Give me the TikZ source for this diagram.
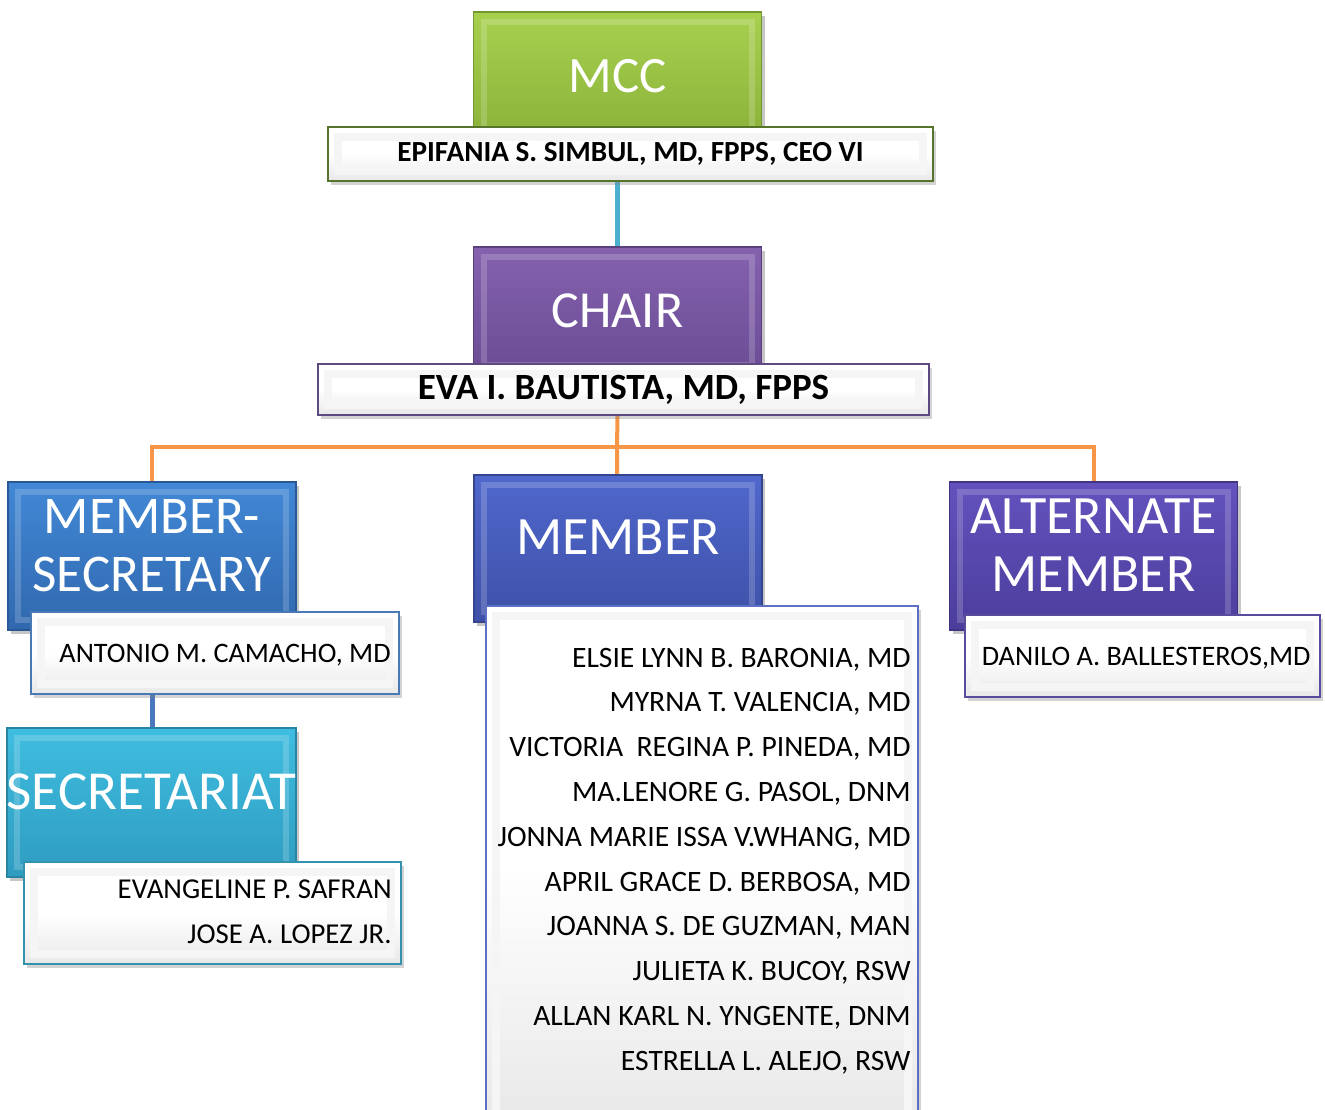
\documentclass[tikz,border=0pt]{standalone}
\usepackage{fontspec}
\setmainfont{Carlito}
\usetikzlibrary{positioning, shadows}

\definecolor{mcctop}{HTML}{A8D04F}
\definecolor{mccbot}{HTML}{8AB239}
\definecolor{mccline}{HTML}{56752A}
\definecolor{chairtop}{HTML}{8561AE}
\definecolor{chairbot}{HTML}{6A4C94}
\definecolor{chairline}{HTML}{5E4A80}
\definecolor{mstop}{HTML}{4288D6}
\definecolor{msbot}{HTML}{3068AE}
\definecolor{msline}{HTML}{4A7AB5}
\definecolor{sectop}{HTML}{3FBDE0}
\definecolor{secbot}{HTML}{2E9CC0}
\definecolor{secline}{HTML}{3592AE}
\definecolor{memtop}{HTML}{5068CC}
\definecolor{membot}{HTML}{3E50A8}
\definecolor{memline}{HTML}{5D6FC4}
\definecolor{alttop}{HTML}{6352BD}
\definecolor{altbot}{HTML}{4B3D9C}
\definecolor{altline}{HTML}{5B4B9E}
\definecolor{tealink}{HTML}{4BB0CF}
\definecolor{orangelink}{HTML}{F79646}
\definecolor{bluelink}{HTML}{4A77BE}

\pgfdeclarelayer{back}
\pgfsetlayers{back,main}

\tikzset{
  headbox/.style 2 args={rectangle, draw=#2!85!black, line width=0.6pt, top color=#1, bottom color=#2, inner sep=0pt, minimum width=144pt,
    drop shadow={shadow xshift=1.5pt, shadow yshift=-2pt, opacity=0.45},
    path picture={\draw[white, opacity=0.18, line width=3pt] ([shift={(5pt,-5pt)}]path picture bounding box.north west) rectangle ([shift={(-5pt,5pt)}]path picture bounding box.south east);}},
  headtext/.style={text=white, align=center, inner sep=0pt, font=\fontsize{#1}{29pt}\selectfont},
  namebox/.style={rectangle, draw=#1, line width=0.9pt, top color=white, bottom color=black!9, middle color=white, inner sep=0pt,
    drop shadow={shadow xshift=1.5pt, shadow yshift=-2pt, opacity=0.35},
    path picture={\draw[black!4, line width=4pt] ([shift={(5pt,-5pt)}]path picture bounding box.north west) rectangle ([shift={(-5pt,5pt)}]path picture bounding box.south east);}},
  nametext/.style={inner sep=0pt, font=\fontsize{#1}{17pt}\selectfont},
  nametext/.default=14.1,
  link/.style={line width=#1},
}

\begin{document}
\begin{tikzpicture}[x=0.5pt, y=-0.5pt]
  \useasboundingbox (0,0) rectangle (1325,1109);

  % top: MCC
  \node[headbox={mcctop}{mccbot}, headtext=25.5, minimum height=64pt] (mcc) at (617.5,76) {MCC};
  \node[namebox=mccline, minimum width=302.5pt, minimum height=27pt, font=\bfseries\fontsize{14.6}{17pt}\selectfont] (mccname) at (630.5,154) {EPIFANIA S. SIMBUL, MD, FPPS, CEO VI};

  % chair
  \node[headbox={chairtop}{chairbot}, headtext=26, minimum height=64pt] (chair) at (617.5,311) {CHAIR};
  \node[namebox=chairline, minimum width=305.5pt, minimum height=25.5pt, font=\bfseries\fontsize{18.5}{20pt}\selectfont] (chairname) at (623.5,389.5) {EVA I. BAUTISTA, MD, FPPS};

  % member-secretary
  \node[headbox={mstop}{msbot}, minimum height=74pt] (ms) at (152,556) {};
  \node[headtext=26.5] (mstext) at ([yshift=5pt]ms.center) {MEMBER-\\SECRETARY};
  \node[namebox=msline, minimum width=184pt, minimum height=41pt] (msname) at (215,653) {};
  \node[nametext, anchor=base east] (msn) at (391,662) {ANTONIO M. CAMACHO, MD};

  % secretariat
  \node[headbox={sectop}{secbot}, minimum width=144.5pt, minimum height=74.5pt] (sec) at (151.5,802.5) {};
  \node[headtext=27.5] (sectext) at ([yshift=5.5pt]sec.center) {SECRETARIAT};
  \node[namebox=secline, minimum width=188.5pt, minimum height=51pt] (secname) at (212.5,913) {};
  \node[nametext=14.4, anchor=base east] (secn1) at (392,898) {EVANGELINE P. SAFRAN};
  \node[nametext=14.4, anchor=base east] (secn2) at (392,943) {JOSE A. LOPEZ JR.};

  % member
  \node[headbox={memtop}{membot}, minimum height=73.5pt] (member) at (618,548.5) {};
  \node[headtext=27] (membertext) at ([yshift=5.5pt]member.center) {MEMBER};
  \node[namebox=memline, minimum width=216pt, minimum height=259.5pt] (memname) at (702,865.5) {};
  \foreach \who [count=\i] in {{ELSIE LYNN B. BARONIA, MD}, {MYRNA T. VALENCIA, MD}, {VICTORIA\ \ REGINA P. PINEDA, MD},
      {MA.LENORE G. PASOL, DNM}, {JONNA MARIE ISSA V.WHANG, MD}, {APRIL GRACE D. BERBOSA, MD},
      {JOANNA S. DE GUZMAN, MAN}, {JULIETA K. BUCOY, RSW}, {ALLAN KARL N. YNGENTE, DNM}, {ESTRELLA L. ALEJO, RSW}}
    \node[nametext=14.8, anchor=base east] (mem\i) at (911,{622.2+44.8*\i}) {\who};

  % alternate member
  \node[headbox={alttop}{altbot}, minimum height=74pt] (alt) at (1093.5,556) {};
  \node[headtext=27] (alttext) at ([yshift=5.5pt]alt.center) {ALTERNATE\\MEMBER};
  \node[namebox=altline, minimum width=177.5pt, minimum height=41pt] (altname) at (1142.5,656) {};
  \node[nametext, anchor=base east] (altn) at (1311,665) {DANILO A. BALLESTEROS,MD};

  % connectors
  \begin{pgfonlayer}{back}
    \coordinate (bus) at (617,447);
    \draw[link=2.5pt, tealink] (mccname.south -| mcc.center) -- (chair.north);
    \draw[link=2pt, orangelink] (chairname.south -| chair.center) -- (bus) -- (bus |- member.north);
    \draw[link=2pt, orangelink] (ms.north) |- (bus) -| (alt.north);
    \draw[link=2.5pt, bluelink] (ms.south) -- (ms.south |- sec.north);
  \end{pgfonlayer}
\end{tikzpicture}
\end{document}
